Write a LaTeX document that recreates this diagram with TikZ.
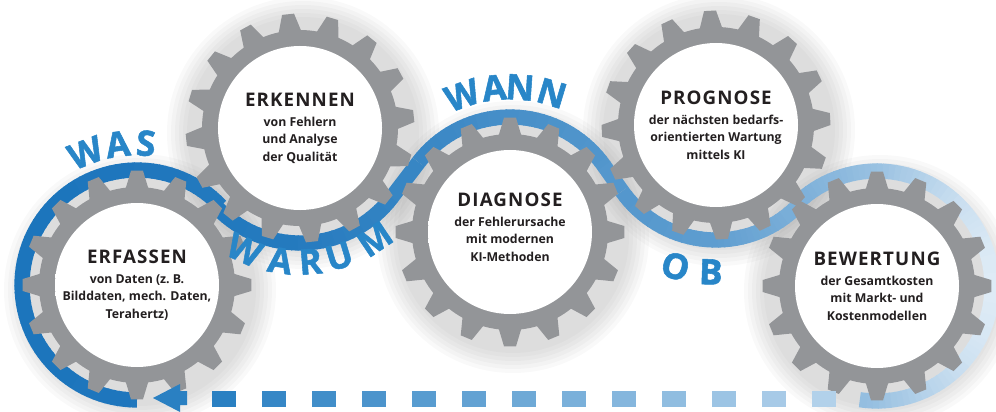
\documentclass[tikz,border=0pt]{standalone}
\usepackage{fontspec}
\setmainfont{Open Sans}
\newfontfamily\titlefont{Open Sans}[LetterSpace=6.0]
\newfontfamily\wordfont{Open Sans}[BoldFeatures={FakeBold=1.5}]
\usetikzlibrary{calc}

\definecolor{gearGray}{RGB}{147,149,152}
\definecolor{textBlack}{RGB}{35,31,32}
\definecolor{wordBlue}{RGB}{40,134,200}
\definecolor{bandDark}{RGB}{28,117,188}
\definecolor{bandPale}{RGB}{222,235,246}
\definecolor{dashDark}{RGB}{42,128,194}
\definecolor{dashPale}{RGB}{178,209,234}

% Innenscheibe
\pgfdeclareradialshading{gearDisc}{\pgfpointorigin}{color(0bp)=(white); color(37bp)=(white); color(50bp)=(black!34)}

\tikzset{
  gearText/.style={align=center, text=textBlack, font=\bfseries\fontsize{10.5}{15}\selectfont},
  blueWord/.style={text=wordBlue, font=\wordfont\bfseries\fontsize{30}{30}\selectfont, inner sep=0pt},
}

\begin{document}
\begin{tikzpicture}[x=0.03cm, y=0.03cm]
    \useasboundingbox (0,0) rectangle (996,411);
    % Mittelpunkte der Zahnraeder
    \coordinate (E1) at (137,126);
    \coordinate (E2) at (300,283);
    \coordinate (E3) at (510,179);
    \coordinate (E4) at (716,286);
    \coordinate (E5) at (877,125);

    % Schatten
    \foreach \g in {E1,E2,E3,E4,E5}
        \foreach \r in {116,120,...,136}
            \fill[black, opacity=.025] ($(\g)+(3,-5)$) circle (\r);

    % Band, Farbe nach x-Lage
    \foreach \cx/\cy/\sa/\ea in {137/126/270/43.9, 300/283/223.9/322.65, 510/179/142.65/35.15, 716/286/215.15/315, 877/125/135/-98}{
        \pgfmathtruncatemacro\n{abs(\ea-\sa)/3+1}
        \pgfmathsetmacro\st{(\ea-\sa)/\n}
        \foreach \j in {1,...,\n}{
            \pgfmathsetmacro\a{\sa+(\j-1)*\st}
            \pgfmathsetmacro\xm{\cx+115*cos(\a+\st/2)}
            \pgfmathsetmacro\f{5*(\xm-21)/279}
            \ifdim\xm pt>300pt \pgfmathsetmacro\f{5+17*(\xm-300)/200}\fi
            \ifdim\xm pt>500pt \pgfmathsetmacro\f{22+13*(\xm-500)/216}\fi
            \ifdim\xm pt>716pt \pgfmathsetmacro\f{35+30*(\xm-716)/161}\fi
            \ifdim\xm pt>877pt \pgfmathsetmacro\f{65+35*(\xm-877)/114}\fi
            \pgfmathtruncatemacro\f{max(0,min(100,\f))}
            \draw[bandPale!\f!bandDark, line width=13pt] (\cx,\cy) ++(\a:115) arc[start angle=\a, end angle=\a+\st*1.2, radius=115];
        }
    }
    \draw[bandPale!14!bandDark, line width=13pt] ($(E2)+(322.65:115)$) -- ($(E3)+(142.65:115)$);
    \draw[bandPale!29!bandDark, line width=13pt] ($(E3)+(35.15:115)$) -- ($(E4)+(215.15:115)$);

    % Zahnraeder
    \foreach \g/\rot in {E1/0, E2/6, E3/0, E4/3, E5/0}{
        \begin{scope}[shift={(\g)}, rotate=\rot]
            \fill[gearGray] (-6.5:98) \foreach \i in {0,...,15}{
                -- ({\i*22.5-6.5}:98) -- ({\i*22.5-3}:114.5) -- ({\i*22.5+3}:114.5) -- ({\i*22.5+6.5}:98)
                arc[start angle=\i*22.5+6.5, end angle=\i*22.5+16, radius=98]
            } -- cycle;
            \shade[shading=gearDisc] (0,0) circle (82);
        \end{scope}
    }

    % Texte
    \node[gearText] (erfassen) at (E1) {{\titlefont\fontsize{16}{18}\selectfont ERFASSEN}\\[2pt]
        von Daten (z.~B.\\ Bilddaten, mech. Daten,\\ Terahertz)};
    \node[gearText] (erkennen) at (E2) {{\titlefont\fontsize{16}{18}\selectfont ERKENNEN}\\[2pt]
        von Fehlern\\ und Analyse\\ der Qualität};
    \node[gearText] (diagnose) at ($(E3)+(0,5)$) {{\titlefont\fontsize{16}{18}\selectfont DIAGNOSE}\\[2pt]
        der Fehlerursache\\ mit modernen\\ KI-Methoden};
    \node[gearText] (prognose) at (E4) {{\titlefont\fontsize{16}{18}\selectfont PROGNOSE}\\[2pt]
        der nächsten bedarfs-\\ orientierten Wartung\\ mittels KI};
    \node[gearText] (bewertung) at (E5) {{\titlefont\fontsize{16}{18}\selectfont BEWERTUNG}\\[2pt]
        der Gesamtkosten\\ mit Markt- und\\ Kostenmodellen};

    % Fragen am Band
    \foreach \ch/\a [count=\i] in {W/111.3, A/97.8, S/86.4}
        \node[blueWord, rotate=\a-90] (was\i) at ($(E1)+(\a:142)$) {\ch};
    \foreach \ch/\a [count=\i] in {W/245.5, A/261.5, R/274.5, U/287, M/304}
        \node[blueWord, rotate=\a+90] (warum\i) at ($(E2)+(\a:134)$) {\ch};
    \foreach \ch/\a [count=\i] in {W/109.3, A/96.3, N/86, N/73.2}
        \node[blueWord, rotate=\a-90] (wann\i) at ($(E3)+(\a:145)$) {\ch};
    \foreach \ch/\a [count=\i] in {O/254, B/268}
        \node[blueWord, rotate=\a+90] (ob\i) at ($(E4)+(\a:147)$) {\ch};

    % Rueckfuehrung
    \coordinate (rueckEnde) at (153,13);
    \foreach \k in {0,...,12}{
        \pgfmathtruncatemacro\p{100-\k*100/12}
        \fill[dashDark!\p!dashPale] (212+50*\k,4) rectangle ++(24,16);
    }
    \fill[dashDark] (rueckEnde) -- ++(27,14) -- ++(0,-7) -- ++(7,0) -- ++(0,-14) -- ++(-7,0) -- ++(0,-7) -- cycle;
\end{tikzpicture}
\end{document}
